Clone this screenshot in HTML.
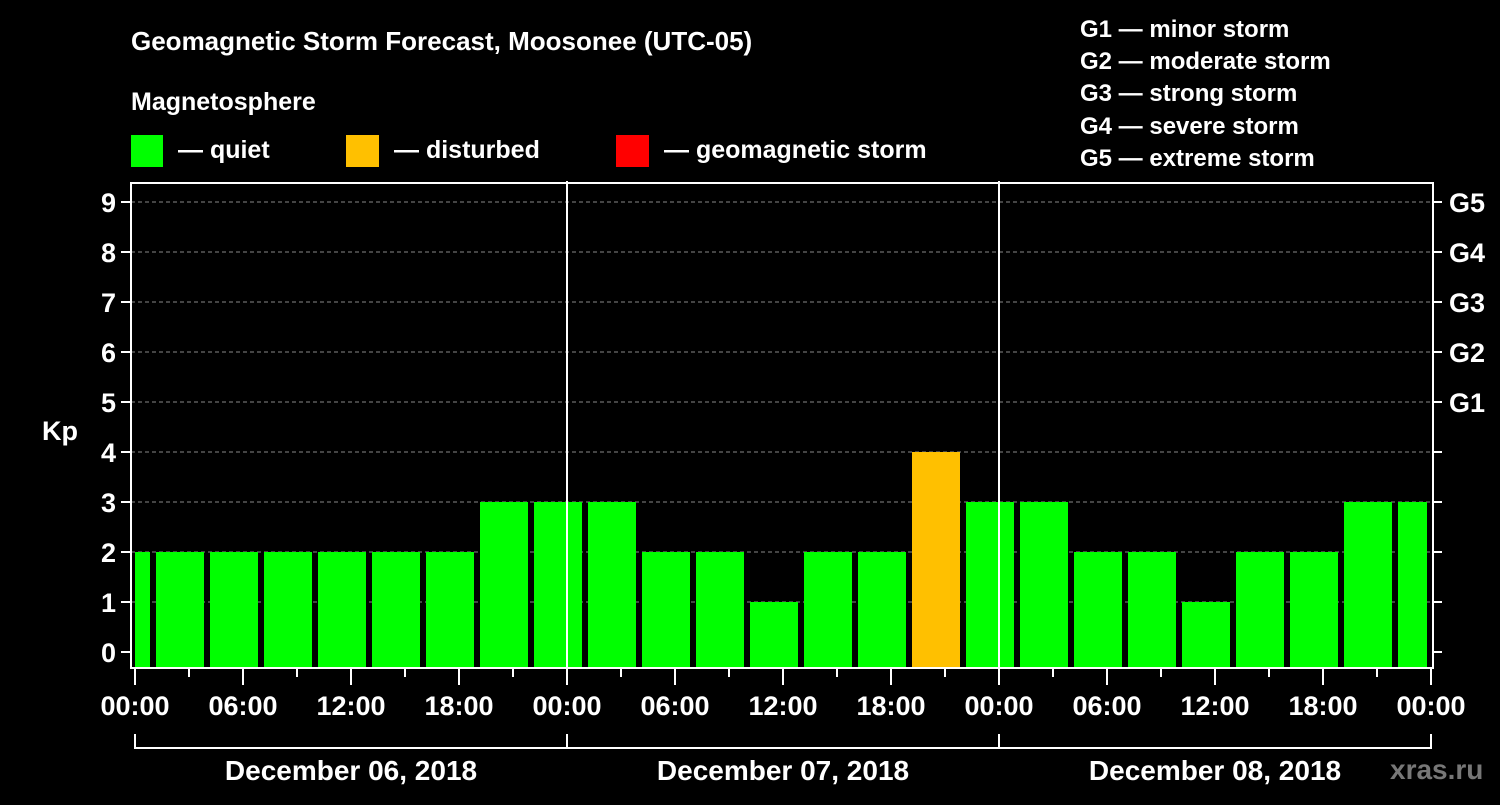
<!DOCTYPE html>
<html><head><meta charset="utf-8"><style>
body{margin:0;background:#000;width:1500px;height:800px;overflow:hidden}
svg text{font-family:"Liberation Sans",Arial,sans-serif;font-weight:bold;fill:#fff}
</style></head><body>
<svg id="chart" width="1500" height="800" xmlns="http://www.w3.org/2000/svg">
<rect width="1500" height="800" fill="#000"/>
<text x="131" y="50" font-size="26">Geomagnetic Storm Forecast, Moosonee (UTC-05)</text>
<text x="131" y="110" font-size="25">Magnetosphere</text>
<g><rect x="131" y="135" width="32" height="32" fill="#00ff00"/><text x="178" y="158" font-size="25">— quiet</text></g>
<g><rect x="346" y="135" width="33" height="32" fill="#ffc000"/><text x="394" y="158" font-size="25">— disturbed</text></g>
<g><rect x="616" y="135" width="33" height="32" fill="#ff0000"/><text x="664" y="158" font-size="25">— geomagnetic storm</text></g>
<g font-size="24">
<text x="1080" y="37">G1 — minor storm</text>
<text x="1080" y="69">G2 — moderate storm</text>
<text x="1080" y="101">G3 — strong storm</text>
<text x="1080" y="134">G4 — severe storm</text>
<text x="1080" y="166">G5 — extreme storm</text>
</g>
<text x="42" y="440" font-size="27">Kp</text>
<g id="grid"></g><g id="bars"></g><g id="axes"></g>
<text x="1390" y="779" font-size="28" style="fill:#777">xras.ru</text>
</svg>
<script>
const kpValues=[2,2,2,2,2,2,2,3,3,3,2,2,1,2,2,4,3,3,2,2,1,2,2,3,3];
const barStartHours=[-2,1,4,7,10,13,16,19,22,25,28,31,34,37,40,43,46,49,52,55,58,61,64,67,70];
const yTicks=[0,1,2,3,4,5,6,7,8,9];
const gLabels=["G1","G2","G3","G4","G5"];
const gLevels=[5,6,7,8,9];
const xTickLabels=["00:00","06:00","12:00","18:00","00:00","06:00","12:00","18:00","00:00","06:00","12:00","18:00","00:00"];
const dayLabels=["December 06, 2018","December 07, 2018","December 08, 2018"];
const NS="http://www.w3.org/2000/svg";
const X0=135,X1=1431,HOURS=72,Y0=652,YU=50,TOP=183,BOT=668,L=131,R=1433;
const xs=h=>X0+(X1-X0)*h/HOURS;
const ys=v=>Y0-v*YU;
function mk(t,a,p){const e=document.createElementNS(NS,t);for(const k in a)e.setAttribute(k,a[k]);p.appendChild(e);return e;}
const grid=document.getElementById('grid'),bars=document.getElementById('bars'),axes=document.getElementById('axes');
yTicks.forEach(v=>{
 if(v>0){const g=mk('line',{x1:L,x2:R,y1:ys(v),y2:ys(v),stroke:'#888','stroke-dasharray':'4,3','stroke-width':1},grid);
 
 }
 const t=mk('line',{x1:121,x2:L,y1:ys(v),y2:ys(v),stroke:'#fff','stroke-width':2},axes);
 
 
 const t2=mk('line',{x1:R,x2:R+9,y1:ys(v),y2:ys(v),stroke:'#fff','stroke-width':2},axes);
 
 
 const lb=mk('text',{x:116,y:ys(v)+10,'font-size':27,'text-anchor':'end'},axes);lb.textContent=v;
 
 
});
gLabels.forEach((g,i)=>{const lb=mk('text',{x:1449,y:ys(gLevels[i])+10,'font-size':27},axes);lb.textContent=g;
 
 });
kpValues.forEach((v,i)=>{
 let a=Math.max(xs(barStartHours[i])+3,X0),b=Math.min(xs(barStartHours[i]+3)-3,X1-4);
 const c=v>=5?'#ff0000':(v>=4?'#ffc000':'#00ff00');
 const r=mk('rect',{x:a,y:ys(v),width:b-a,height:BOT-ys(v),fill:c},bars);
 
 
});
[1,2].forEach(d=>{const l=mk('line',{x1:xs(d*24),x2:xs(d*24),y1:TOP-2,y2:BOT,stroke:'#fff','stroke-width':2},axes);
 
 });
const fr=mk('rect',{x:L,y:TOP,width:R-L,height:BOT-TOP,fill:'none',stroke:'#fff','stroke-width':2},axes);


for(let h=0;h<=HOURS;h+=3){const major=h%6===0;
 const t=mk('line',{x1:xs(h),x2:xs(h),y1:BOT,y2:major?685:677,stroke:'#fff','stroke-width':2},axes);
 
 }
xTickLabels.forEach((s,i)=>{const lb=mk('text',{x:xs(i*6),y:715,'font-size':27,'text-anchor':'middle'},axes);lb.textContent=s;
 
 });
const br=mk('path',{d:`M${xs(0)},734V748H${xs(72)}V734M${xs(24)},734V748M${xs(48)},734V748`,stroke:'#fff','stroke-width':2,fill:'none'},axes);


dayLabels.forEach((s,i)=>{const lb=mk('text',{x:xs(i*24+12),y:780,'font-size':28,'text-anchor':'middle'},axes);lb.textContent=s;
 
 });
</script>
</body></html>
